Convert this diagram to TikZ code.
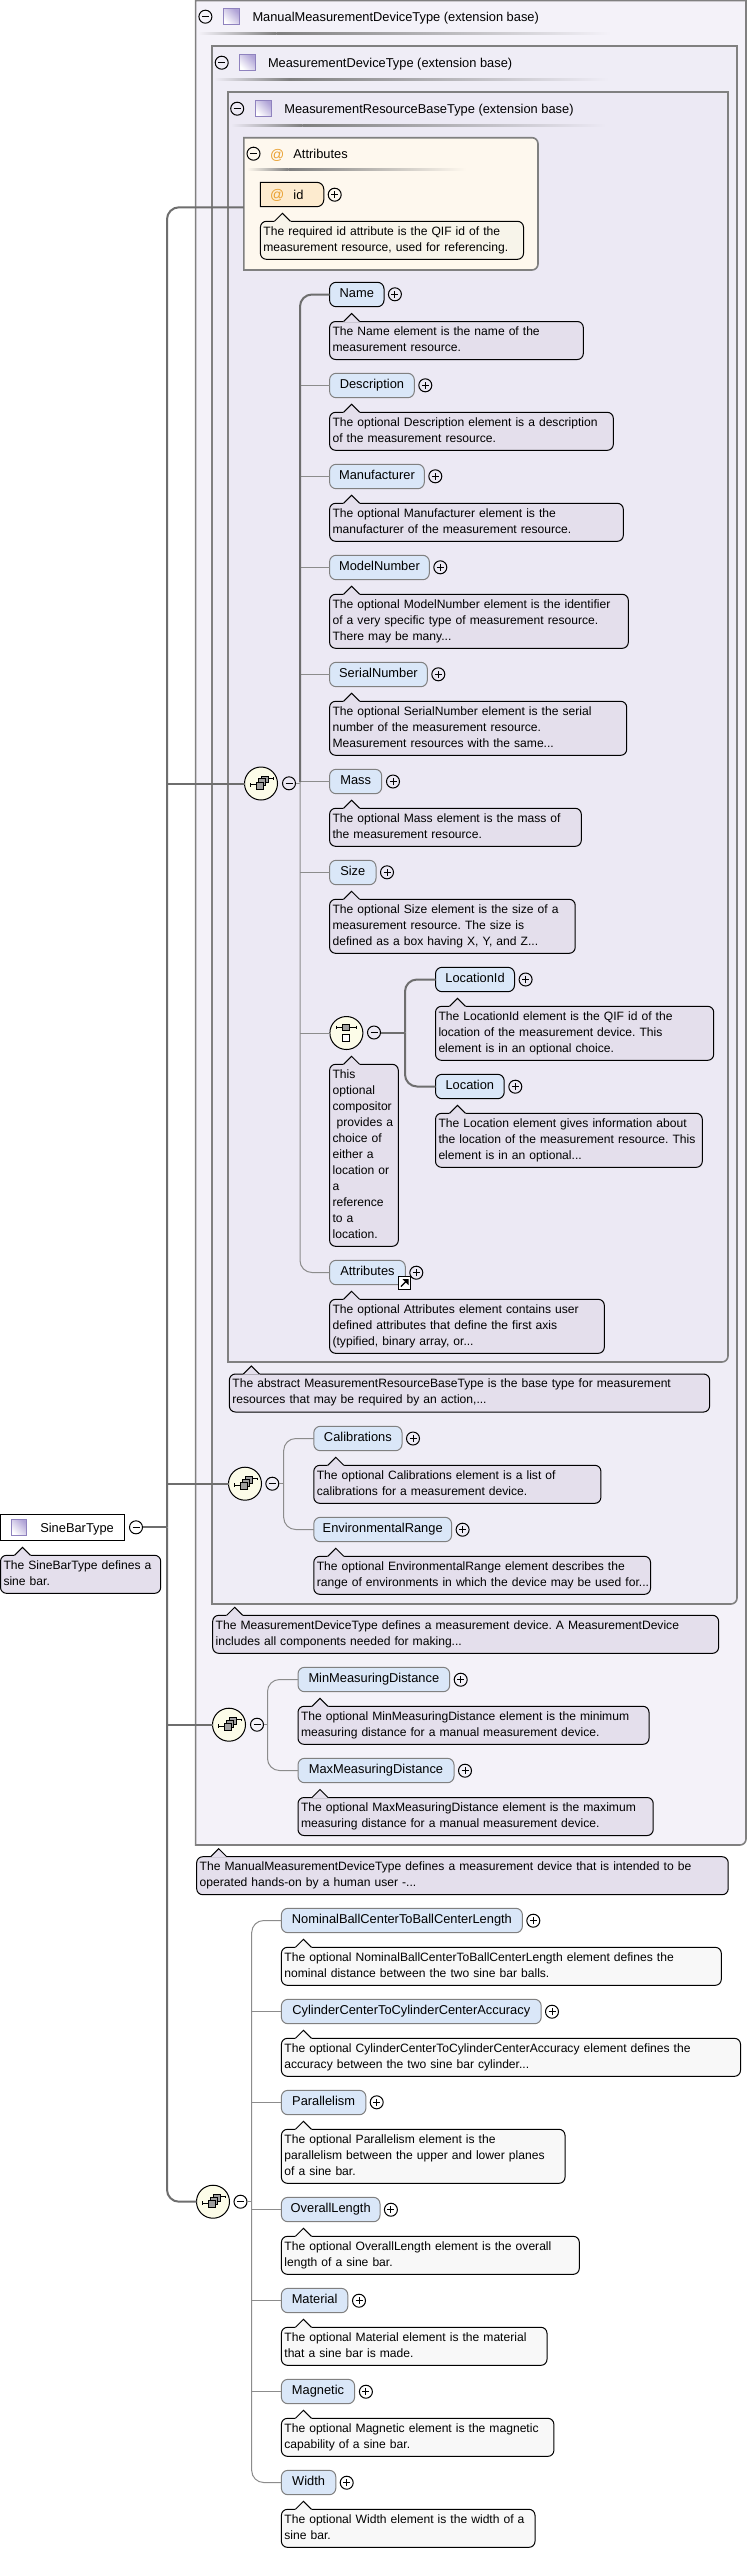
\documentclass[tikz,border=0pt]{standalone}
\usepackage{fontspec}
\setmainfont{Liberation Sans}
\usetikzlibrary{calc}
\definecolor{bgA}{HTML}{F4F2F9}
\definecolor{bgB}{HTML}{EFEDF6}
\definecolor{bgC}{HTML}{ECE9F4}
\definecolor{bgAttr}{HTML}{FEF8EE}
\definecolor{boxline}{HTML}{808080}
\definecolor{notepurple}{HTML}{E4DFEC}
\definecolor{notegray}{HTML}{F8F8F8}
\definecolor{notecream}{HTML}{F7F4EA}
\definecolor{elemfill}{HTML}{DAE7F8}
\definecolor{attrfill}{HTML}{FDEBCF}
\definecolor{compfill}{HTML}{FCFCE8}
\definecolor{atcolor}{HTML}{E9A030}
\definecolor{iconline}{HTML}{8F82BE}
\definecolor{iconfill}{HTML}{AFA2D6}
\definecolor{wirecol}{HTML}{6E6E6E}
\definecolor{thincol}{HTML}{8C8C8C}
\newcommand{\txtfont}{\fontsize{12.1}{16}\selectfont}
\newcommand{\labfont}{\fontsize{12.85}{16}\selectfont}
\tikzset{
  every node/.style={font=\txtfont,text=black},
  elembox/.style={draw=boxline,line width=1pt,fill=elemfill,rounded corners=6.5pt,inner sep=0pt,outer sep=0pt,minimum height=24.4pt,text height=9.3pt,text depth=2.5pt,anchor=north west,font=\labfont},
  reqd/.style={draw=black},
  notebox/.style={draw=black,line width=1pt,rounded corners=6pt,inner xsep=3pt,inner ysep=0pt,outer sep=0pt,align=left,anchor=north west},
  expander/.style={circle,draw=black,line width=1pt,inner sep=0pt,outer sep=0pt,minimum size=13pt},
  comp/.style={circle,draw=black,line width=1pt,fill=compfill,inner sep=0pt,outer sep=0pt,minimum size=33pt},
  hdr/.style={anchor=base west,inner sep=0pt,outer sep=0pt,font=\labfont},
  atsign/.style={anchor=base west,inner sep=0pt,outer sep=0pt,font=\fontsize{14}{16}\selectfont,text=atcolor},
  container/.style={draw=boxline,line width=1.6pt},
  wire/.style={draw=wirecol,line width=2pt,rounded corners=12pt},
  thinwire/.style={draw=thincol,line width=1pt,rounded corners=12pt},
  sqbox/.style={draw=black,line width=.8pt,fill=gray!75},
}
\newcommand{\elem}[5][]{\pgfmathsetmacro\wdv{#4-#3}\node[elembox,#1,minimum width=\wdv pt] (#2) at (#3,#5) {\csname eltext#2\endcsname};}
\newcommand{\etext}[2]{\expandafter\def\csname eltext#1\endcsname{#2}}
\newcommand{\lnstrut}{\rule[-3.5pt]{0pt}{12.5pt}}
\newcommand{\notep}[7][notepurple]{%
  \pgfmathsetmacro\wdv{#4-#3-6}\pgfmathsetmacro\htv{#6*16+6}%
  \node[notebox,fill=#1,text width=\wdv pt,minimum height=\htv pt] (#2) at (#3,#5) {\lnstrut #7\lnstrut};
  \fill[#1] ([xshift=13.5pt,yshift=-.6pt]#2.north west) -- ([xshift=22pt,yshift=8pt]#2.north west) -- ([xshift=30.5pt,yshift=-.6pt]#2.north west) -- cycle;
  \draw[black,line width=1pt] ([xshift=14pt]#2.north west) -- ([xshift=22pt,yshift=8pt]#2.north west) -- ([xshift=30pt]#2.north west);
}
\newcommand{\plusn}[3]{\node[expander] (#1) at (#2,#3) {};
  \draw[line width=1pt] ([xshift=-3.5pt]#1.center) -- ([xshift=3.5pt]#1.center) ([yshift=-3.5pt]#1.center) -- ([yshift=3.5pt]#1.center);}
\newcommand{\minusn}[3]{\node[expander] (#1) at (#2,#3) {};
  \draw[line width=1pt] ([xshift=-3.5pt]#1.center) -- ([xshift=3.5pt]#1.center);}
\newcommand{\typeicon}[2]{\shade[left color=iconfill,right color=white,shading angle=-45] (#1,#2) rectangle ++(15.5,16);
  \draw[iconline,line width=.8pt] (#1,#2) rectangle ++(15.5,16);}
\newcommand{\hdline}[4]{\pgfmathsetmacro\midv{#1+0.19*(#2-#1)}
  \shade[left color=#4,right color=gray] (#1,#3-1) rectangle (\midv,#3+1);
  \shade[left color=gray,right color=#4] (\midv,#3-1) rectangle (#2,#3+1);}
\newcommand{\seqn}[3]{\node[comp] (#1) at (#2,#3) {};
  \begin{scope}[shift={(#1.center)}]
  \draw[line width=.9pt] (-10.7,-.7+2) -- (-4,1.3) (-10.7,-.3) -- (-10.7,3) (6,-5) -- (12.7,-5) (12.7,-6.2) -- (12.7,-3.8);
  \draw[sqbox] (0,-7.3) rectangle (7,-.7);
  \draw[sqbox] (-2.7,-4.7) rectangle (4.3,2.3);
  \draw[sqbox] (-5,-1.3) rectangle (2,5.7);
  \end{scope}}
\newcommand{\choicen}[3]{\node[comp] (#1) at (#2,#3) {};
  \begin{scope}[shift={(#1.center)}]
  \draw[line width=.9pt] (-10,-6) -- (9.7,-6) (-10,-7.5) -- (-10,-4.5) (9.7,-7.5) -- (9.7,-4.5);
  \draw[sqbox] (-3.7,-9) rectangle (3.3,-2.3);
  \draw[line width=.9pt,fill=white] (-3.7,1) rectangle (3.3,8);
  \end{scope}}
\begin{document}
\frenchspacing
\begin{tikzpicture}[x=1pt,y=-1pt]
\useasboundingbox (0,0) rectangle (747,2551);
\fill[white] (0,0) rectangle (747,2551);
% containers
\draw[container,fill=bgA] (195.6,0.5) -- (746,0.5) [rounded corners=6pt] -- (746,1845) [sharp corners] -- (195.6,1845) -- cycle;
\draw[container,fill=bgB] (212,46) -- (737,46) [rounded corners=6pt] -- (737,1604) [sharp corners] -- (212,1604) -- cycle;
\draw[container,fill=bgC] (228,92) -- (728,92) [rounded corners=6pt] -- (728,1362) [sharp corners] -- (228,1362) -- cycle;
\draw[container,fill=bgAttr] (243.8,137.7) [rounded corners=6pt] -- (538,137.7) -- (538,270) [sharp corners] -- (243.8,270) -- cycle;
% headers
\minusn{mA}{205.4}{16.7}\typeicon{223.5}{8.3}
\node[hdr] (hA) at (252.5,21) {ManualMeasurementDeviceType (extension base)};
\hdline{198}{611}{33}{bgA}
\minusn{mB}{221.7}{62.7}\typeicon{239.4}{54}
\node[hdr] (hB) at (268,67) {MeasurementDeviceType (extension base)};
\hdline{214}{609}{79}{bgB}
\minusn{mC}{237.2}{108.7}\typeicon{255.4}{100}
\node[hdr] (hC) at (284.3,113) {MeasurementResourceBaseType (extension base)};
\hdline{231}{606}{125}{bgC}
\minusn{mD}{253.5}{153.7}
\node[atsign] (atD) at (270.2,159) {@};
\node[hdr] (hD) at (293.4,158.3) {Attributes};
\hdline{247}{466}{169}{bgAttr}
% id attribute
\draw[draw=black,line width=1pt,fill=attrfill] (260.4,182.3) [rounded corners=7pt] -- (323.8,182.3) -- (323.8,206.7) [sharp corners] -- (260.4,206.7) -- cycle;
\node[atsign] (atid) at (270.2,199.5) {@};
\node[hdr] (idt) at (293.4,199.3) {id};
\plusn{pid}{334.7}{194.7}
\notep[notecream]{nid}{260.4}{523.5}{221.3}{2}{The required id attribute is the QIF id of the\\measurement resource, used for referencing.}
% element texts
\etext{Name}{Name}\etext{Description}{Description}\etext{Manufacturer}{Manufacturer}\etext{ModelNumber}{ModelNumber}\etext{SerialNumber}{SerialNumber}\etext{Mass}{Mass}\etext{Size}{Size}\etext{LocationId}{LocationId}\etext{Location}{Location}\etext{AttributesEl}{Attributes}\etext{Calibrations}{Calibrations}\etext{EnvironmentalRange}{EnvironmentalRange}\etext{MinDist}{MinMeasuringDistance}\etext{MaxDist}{MaxMeasuringDistance}\etext{Nominal}{NominalBallCenterToBallCenterLength}\etext{Cylinder}{CylinderCenterToCylinderCenterAccuracy}\etext{Parallelism}{Parallelism}\etext{OverallLength}{OverallLength}\etext{Material}{Material}\etext{Magnetic}{Magnetic}\etext{Width}{Width}
% resource group
\elem[reqd]{Name}{329.6}{384}{282.3}\plusn{pName}{394.9}{294.3}
\notep{nName}{329.6}{583.3}{321.5}{2}{The Name element is the name of the\\measurement resource.}
\elem{Description}{329.6}{414.3}{373.3}\plusn{pDesc}{425.3}{385.3}
\notep{nDesc}{329.6}{613.3}{412.3}{2}{The optional Description element is a description\\of the measurement resource.}
\elem{Manufacturer}{329.6}{424.3}{464.3}\plusn{pManu}{435.3}{476.3}
\notep{nManu}{329.6}{623.3}{503.3}{2}{The optional Manufacturer element is the\\manufacturer of the measurement resource.}
\elem{ModelNumber}{329.6}{429.3}{555.3}\plusn{pModel}{440.3}{567.3}
\notep{nModel}{329.6}{628.3}{594.3}{3}{The optional ModelNumber element is the identifier\\of a very specific type of measurement resource.\\There may be many...}
\elem{SerialNumber}{329.6}{427.3}{662.3}\plusn{pSerial}{438.3}{674.3}
\notep{nSerial}{329.6}{626.7}{701.3}{3}{The optional SerialNumber element is the serial\\number of the measurement resource.\\Measurement resources with the same...}
\elem{Mass}{329.6}{381.7}{769.3}\plusn{pMass}{393}{781.5}
\notep{nMass}{329.6}{581.3}{808.3}{2}{The optional Mass element is the mass of\\the measurement resource.}
\elem{Size}{329.6}{376}{860.3}\plusn{pSize}{387}{872.3}
\notep{nSize}{329.6}{575.2}{899.3}{3}{The optional Size element is the size of a\\measurement resource. The size is\\defined as a box having X, Y, and Z...}
\choicen{choice}{346.4}{1033}\minusn{mChoice}{374}{1032.5}
\notep{nChoice}{329.6}{398.3}{1064.3}{11}{This\\optional\\compositor\\\ provides a\\choice of\\either a\\location or\\a\\reference\\to a\\location.}
\elem[reqd]{LocationId}{435.5}{514.5}{967.3}\plusn{pLocId}{525.6}{979.5}
\notep{nLocId}{435.5}{713.7}{1006.3}{3}{The LocationId element is the QIF id of the\\location of the measurement device. This\\element is in an optional choice.}
\elem[reqd]{Location}{435.5}{504.2}{1074.3}\plusn{pLoc}{515.3}{1086.7}
\notep{nLoc}{435.5}{702.3}{1113.3}{3}{The Location element gives information about\\the location of the measurement resource. This\\element is in an optional...}
\elem{AttributesEl}{329.6}{405.3}{1260.3}\plusn{pAttr}{416.3}{1272.7}
\notep{nAttr}{329.6}{604.3}{1299.3}{3}{The optional Attributes element contains user\\defined attributes that define the first axis\\(typified, binary array, or...}
\node[draw=black,line width=1pt,fill=white,minimum size=12.5pt,inner sep=0pt] (linkbox) at (404.5,1283) {};
\draw[line width=1.3pt] ([xshift=-3.5pt,yshift=-3.5pt]linkbox.center) -- ([xshift=2pt,yshift=2pt]linkbox.center);
\fill[black] ([xshift=4pt,yshift=4pt]linkbox.center) -- ([xshift=-2pt,yshift=4pt]linkbox.center) -- ([xshift=4pt,yshift=-2pt]linkbox.center) -- cycle;
\seqn{seqA}{261}{783.5}\minusn{mSeqA}{289}{783.3}
% measurement device group
\notep{nRes}{229.4}{709.6}{1374}{2}{The abstract MeasurementResourceBaseType is the base type for measurement\\resources that may be required by an action,...}
\seqn{seqB}{245}{1483.7}\minusn{mSeqB}{272.3}{1483.7}
\elem{Calibrations}{313.8}{402}{1426.3}\plusn{pCal}{413}{1438.5}
\notep{nCal}{313.8}{600.9}{1465.3}{2}{The optional Calibrations element is a list of\\calibrations for a measurement device.}
\elem{EnvironmentalRange}{313.8}{451.6}{1517.3}\plusn{pEnv}{462.6}{1529.7}
\notep{nEnv}{313.8}{650.5}{1556.3}{2}{The optional EnvironmentalRange element describes the\\\mbox{range of environments in which the device may be used for...}}
% manual device group
\notep{nMeas}{212.7}{718.6}{1615.3}{2}{The MeasurementDeviceType defines a measurement device. A MeasurementDevice\\includes all components needed for making...}
\seqn{seqC}{229}{1724.7}\minusn{mSeqC}{257}{1724.7}
\elem{MinDist}{298}{449.7}{1667.3}\plusn{pMin}{460.7}{1679.7}
\notep{nMin}{298}{649}{1706.3}{2}{The optional MinMeasuringDistance element is the minimum\\measuring distance for a manual measurement device.}
\elem{MaxDist}{298}{454}{1758.3}\plusn{pMax}{465}{1770.7}
\notep{nMax}{298}{653.2}{1797.5}{2}{The optional MaxMeasuringDistance element is the maximum\\measuring distance for a manual measurement device.}
\notep{nManual}{196.7}{728.2}{1856.7}{2}{The ManualMeasurementDeviceType defines a measurement device that is intended to be\\operated hands-on by a human user -...}
% sine bar group
\seqn{seqD}{213}{2201.7}\minusn{mSeqD}{240.5}{2201.7}
\elem{Nominal}{281.4}{522.4}{1908.3}\plusn{pNom}{533.3}{1920.7}
\notep[notegray]{nNom}{281.4}{721.3}{1947.3}{2}{The optional NominalBallCenterToBallCenterLength element defines the\\nominal distance between the two sine bar balls.}
\elem{Cylinder}{281.4}{541.2}{1999.3}\plusn{pCyl}{552}{2011.7}
\notep[notegray]{nCyl}{281.4}{740.5}{2038.3}{2}{The optional CylinderCenterToCylinderCenterAccuracy element defines the\\accuracy between the two sine bar cylinder...}
\elem{Parallelism}{281.4}{365.9}{2090.3}\plusn{pPar}{376.7}{2102.3}
\notep[notegray]{nPar}{281.4}{565}{2129.3}{3}{The optional Parallelism element is the\\parallelism between the upper and lower planes\\of a sine bar.}
\elem{OverallLength}{281.4}{380}{2197.3}\plusn{pOver}{390.9}{2209.7}
\notep[notegray]{nOver}{281.4}{579.3}{2236.3}{2}{The optional OverallLength element is the overall\\length of a sine bar.}
\elem{Material}{281.4}{347.8}{2288.3}\plusn{pMat}{359}{2300.7}
\notep[notegray]{nMat}{281.4}{547}{2327.3}{2}{The optional Material element is the material\\that a sine bar is made.}
\elem{Magnetic}{281.4}{354.6}{2379.3}\plusn{pMag}{365.9}{2391.7}
\notep[notegray]{nMag}{281.4}{553.9}{2418.3}{2}{The optional Magnetic element is the magnetic\\capability of a sine bar.}
\elem{Width}{281.4}{335.8}{2470.3}\plusn{pWid}{346.7}{2482.7}
\notep[notegray]{nWid}{281.4}{535}{2509.3}{2}{The optional Width element is the width of a\\sine bar.}
% root
\node[draw=black,line width=1pt,fill=white,minimum width=124pt,minimum height=26.4pt,inner sep=0pt,outer sep=0pt,anchor=north west] (root) at (.5,1514.3) {};
\typeicon{11}{1519}
\node[hdr] (rootlabel) at (40.3,1532) {SineBarType};
\minusn{mRoot}{136}{1527.3}
\notep{nRoot}{.5}{160.7}{1555.3}{2}{The SineBarType defines a\\sine bar.}
% coordinates
\coordinate (trunk) at (167,1527.3);
\coordinate (attrin) at (243.8,207.3);
\coordinate (busA) at (300,782);
\coordinate (busB) at (405,1032.5);
\coordinate (busC) at (283.7,1483.7);
\coordinate (busD) at (267.5,1724.7);
\coordinate (busE) at (251.7,2201.7);
% connectors
\draw[wire] (mRoot.east) -- (trunk);
\draw[wire] (attrin) -| (trunk);
\draw[wire] (seqD.west) -| (trunk);
\draw[wire] (seqA.west) -- (seqA.west -| trunk);
\draw[wire] (seqB.west) -- (seqB.west -| trunk);
\draw[wire] (seqC.west) -- (seqC.west -| trunk);
\draw[thinwire] (AttributesEl.west) -| (busA);
\draw[thinwire] (Description.west) -- (Description.west -| busA);
\draw[thinwire] (Manufacturer.west) -- (Manufacturer.west -| busA);
\draw[thinwire] (ModelNumber.west) -- (ModelNumber.west -| busA);
\draw[thinwire] (SerialNumber.west) -- (SerialNumber.west -| busA);
\draw[thinwire] (Mass.west) -- (Mass.west -| busA);
\draw[thinwire] (Size.west) -- (Size.west -| busA);
\draw[thinwire] (choice.west) -- (choice.west -| busA);
\draw[thinwire] (mSeqA.east) -- (mSeqA.east -| busA);
\draw[wire] (Name.west) -| (busA);
\draw[wire] (LocationId.west) -| (busB);
\draw[wire] (Location.west) -| (busB);
\draw[wire] (mChoice.east) -- (busB);
\draw[thinwire] (mSeqB.east) -- (busC);
\draw[thinwire] (Calibrations.west) -| (busC);
\draw[thinwire] (EnvironmentalRange.west) -| (busC);
\draw[thinwire] (mSeqC.east) -- (busD);
\draw[thinwire] (MinDist.west) -| (busD);
\draw[thinwire] (MaxDist.west) -| (busD);
\draw[thinwire] (mSeqD.east) -- (busE);
\draw[thinwire] (Nominal.west) -| (busE);
\draw[thinwire] (Width.west) -| (busE);
\draw[thinwire] (Cylinder.west) -- (Cylinder.west -| busE);
\draw[thinwire] (Parallelism.west) -- (Parallelism.west -| busE);
\draw[thinwire] (OverallLength.west) -- (OverallLength.west -| busE);
\draw[thinwire] (Material.west) -- (Material.west -| busE);
\draw[thinwire] (Magnetic.west) -- (Magnetic.west -| busE);
\end{tikzpicture}
\end{document}
